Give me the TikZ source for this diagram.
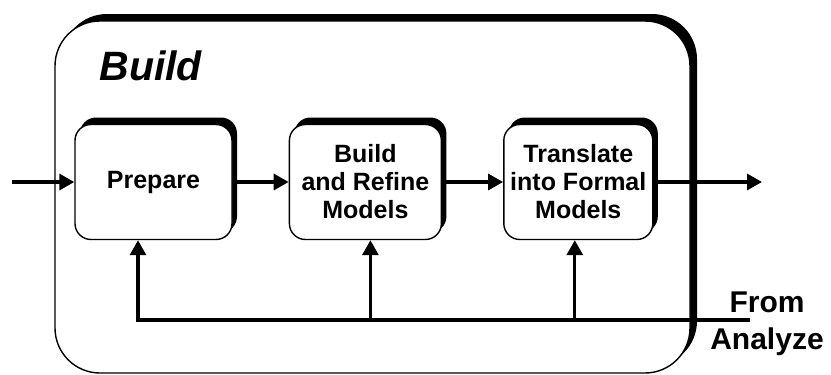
\documentclass[tikz,border=0pt]{standalone}
\usepackage{fontspec}
\setmainfont{Liberation Sans}
\usetikzlibrary{arrows.meta,shadows,positioning}

\tikzset{
  stage/.style={draw,line width=1.4pt,rounded corners=16pt,fill=white,align=center,
    minimum height=115pt,inner sep=2pt,font=\fontsize{25}{28}\selectfont\bfseries,
    general shadow={fill=black,shadow xshift=5pt,shadow yshift=7pt}},
  flow/.style={line width=3.2pt,-{Triangle[length=15pt,width=16pt]}}
}

\begin{document}
\begin{tikzpicture}[x=1pt,y=-1pt]
        \useasboundingbox (0,0) rectangle (831,375);
        % outer frame
        \node[draw,line width=1.4pt,rounded corners=45pt,fill=white,minimum width=635pt,minimum height=352pt,
              general shadow={fill=black,shadow xshift=7pt,shadow yshift=7pt}] (frame) at (372.5,197) {};
        \node[anchor=base west,font=\fontsize{41}{41}\selectfont\bfseries\itshape] (title) at (96,80) {Build};
        % stages
        \node[stage,minimum width=157pt] (prep) at (153.5,182) {Prepare};
        \node[stage,minimum width=152pt,right=56pt of prep] (refine) {Build\\and Refine\\Models};
        \node[stage,minimum width=149pt,right=61pt of refine] (formal) {Translate\\into Formal\\Models};
        \coordinate (in) at (12,182);
        \coordinate (out) at (762,182);
        \coordinate (fb) at (750,320);
        \draw[flow] (in) -- (prep);
        \draw[flow] (prep) -- (refine);
        \draw[flow] (refine) -- (formal);
        \draw[flow] (formal) -- (out);
        % feedback
        \draw[flow] (fb) -| ([xshift=-15.5pt]prep.south);
        \draw[flow] ([xshift=5pt]refine.south |- fb) -- ([xshift=5pt]refine.south);
        \draw[flow] ([xshift=-3.5pt]formal.south |- fb) -- ([xshift=-3.5pt]formal.south);
        \node[anchor=north,align=center,inner sep=0pt,font=\fontsize{30}{37}\selectfont\bfseries] (analyze) at (767,291.5) {From\\Analyze};
      \end{tikzpicture}
\end{document}
